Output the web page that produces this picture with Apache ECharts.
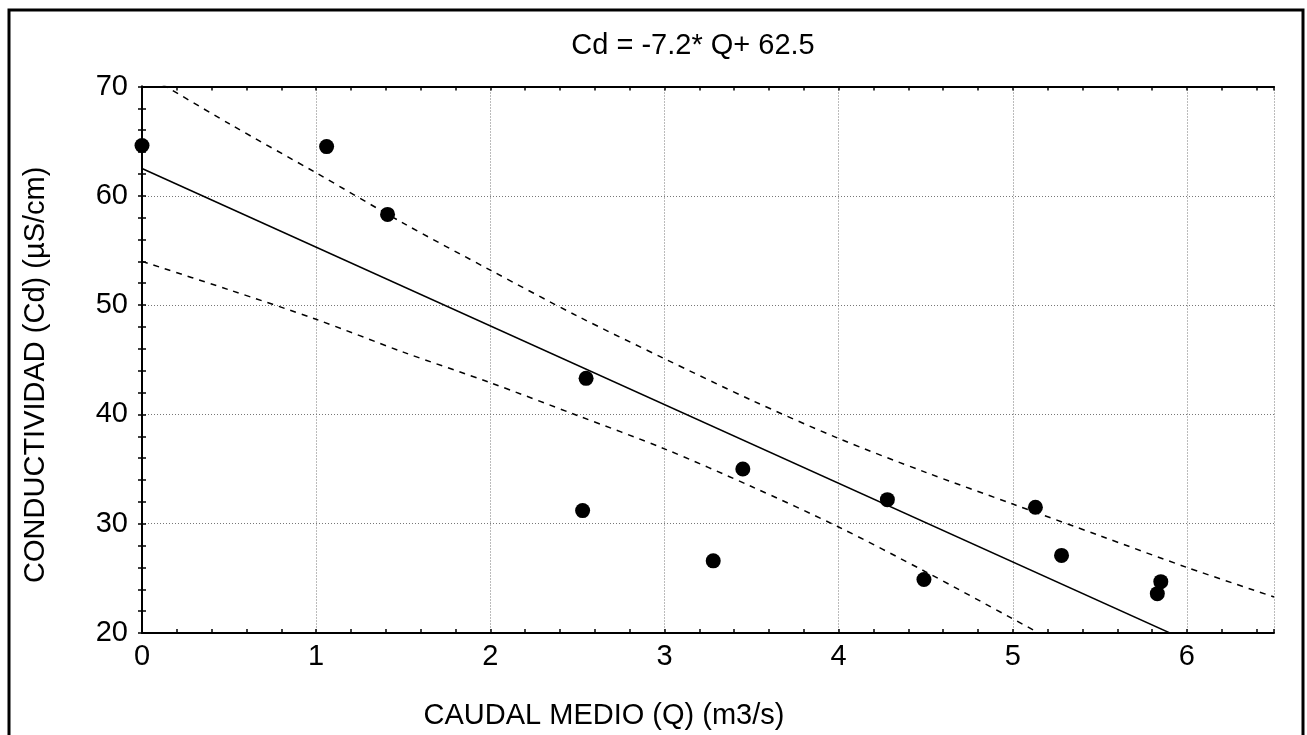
<!DOCTYPE html>
<html>
<head>
<meta charset="utf-8">
<title>Cd vs Q</title>
<script src="https://cdn.jsdelivr.net/npm/echarts@6/dist/echarts.min.js"></script>
<style>
  html, body { margin: 0; padding: 0; background: #fff; }
  #chart { width: 1307px; height: 735px; }
</style>
</head>
<body>
<div id="chart"></div>
<script>
// Observed flow (Q, m3/s) and conductivity (Cd, µS/cm)
const flowQ  = [0.0, 1.06, 1.41, 2.55, 2.53, 3.28, 3.45, 4.28, 4.49, 5.13, 5.28, 5.85, 5.83];
const condCd = [64.6, 64.5, 58.3, 43.3, 31.2, 26.6, 35.0, 32.2, 24.9, 31.5, 27.1, 24.7, 23.6];

// Fitted line Cd = -7.2*Q + 62.5, end points
const fitQ  = [0, 6.5];
const fitCd = [62.5, 15.7];

// 95% confidence band
const upperQ  = [0, 0.5, 1, 1.5, 2, 2.5, 3, 3.5, 4, 4.5, 5, 5.5, 6, 6.5];
const upperCd = [71.3, 66.6, 62.1, 57.5, 53.2, 49.0, 45.1, 41.3, 37.8, 34.7, 31.8, 28.9, 26.0, 23.3];
const lowerQ  = [0, 0.5, 1, 1.5, 2, 2.5, 3, 3.5, 4, 4.5, 5, 5.15];
const lowerCd = [54.0, 51.4, 48.7, 45.7, 42.9, 39.9, 36.85, 33.4, 29.7, 25.6, 21.3, 20.0];

const xTicks = [0, 1, 2, 3, 4, 5, 6];
const yTicks = [20, 30, 40, 50, 60, 70];

const titleText = 'Cd = -7.2* Q+ 62.5';
const xName = 'CAUDAL MEDIO (Q) (m3/s)';
const yName = 'CONDUCTIVIDAD (Cd) (µS/cm)';

const FONT = '"Liberation Sans", Arial, sans-serif';
const FS = 29;
const zip = (xs, ys) => xs.map((x, i) => [x, ys[i]]);

const chart = echarts.init(document.getElementById('chart'), null, { renderer: 'canvas' });

// box axes: inward major and minor ticks on all four sides
const boxTicks = {
  axisLine: { show: true, lineStyle: { color: '#000', width: 2 } },
  axisTick: { show: true, inside: true, length: 4, lineStyle: { color: '#000', width: 1.5 } },
  minorTick: { show: true, splitNumber: 5, length: 4, lineStyle: { color: '#000', width: 1.5 } }
};
const dottedGrid = { show: true, lineStyle: { color: '#777', type: [1, 2], width: 1 } };

chart.setOption({
  animation: false,
  backgroundColor: '#fff',
  textStyle: { fontFamily: FONT },
  title: {
    text: titleText,
    left: 688, top: 26,
    textAlign: 'center',
    textStyle: { fontFamily: FONT, fontSize: FS, fontWeight: 'normal', color: '#000' }
  },
  graphic: [{
    type: 'rect',
    shape: { x: 9, y: 10, width: 1294, height: 780 },
    style: { fill: 'none', stroke: '#000', lineWidth: 3 },
    silent: true
  }],
  grid: { left: 142, top: 86.5, right: 33, bottom: 100 },
  xAxis: [{
    type: 'value', min: 0, max: 6.5, interval: 1,
    name: xName, nameLocation: 'middle', nameGap: 68,
    nameTextStyle: { fontFamily: FONT, fontSize: FS, color: '#000', padding: [0, 208, 0, 0] },
    ...boxTicks,
    axisLabel: {
      color: '#000', fontSize: FS, fontFamily: FONT, margin: 9,
      showMaxLabel: false,
      formatter: v => (xTicks.includes(v) ? String(v) : '')
    },
    splitLine: dottedGrid
  }, {
    type: 'value', min: 0, max: 6.5, interval: 1, position: 'top',
    ...boxTicks,
    axisLabel: { show: false },
    splitLine: { show: false }
  }],
  yAxis: [{
    type: 'value', min: 20, max: 70, interval: 10,
    name: yName, nameLocation: 'middle', nameGap: 92, nameRotate: 90,
    nameTextStyle: { fontFamily: FONT, fontSize: FS, color: '#000', padding: [0, 30, 0, 0] },
    ...boxTicks,
    axisLabel: {
      color: '#000', fontSize: FS, fontFamily: FONT, margin: 14,
      formatter: v => (yTicks.includes(v) ? String(v) : '')
    },
    splitLine: dottedGrid
  }, {
    type: 'value', min: 20, max: 70, interval: 10, position: 'right',
    ...boxTicks,
    axisLabel: { show: false },
    splitLine: { show: false }
  }],
  series: [
    {
      name: 'upper', type: 'line', data: zip(upperQ, upperCd),
      showSymbol: false, smooth: 0.3, clip: true,
      lineStyle: { color: '#000', width: 1.5, type: [6, 6] }, z: 3
    },
    {
      name: 'lower', type: 'line', data: zip(lowerQ, lowerCd),
      showSymbol: false, smooth: 0.3, clip: true,
      lineStyle: { color: '#000', width: 1.5, type: [6, 6] }, z: 3
    },
    {
      name: 'fit', type: 'line', data: zip(fitQ, fitCd),
      showSymbol: false, clip: true,
      lineStyle: { color: '#000', width: 1.5, type: 'solid' }, z: 3
    },
    {
      name: 'obs', type: 'scatter', data: zip(flowQ, condCd),
      symbol: 'circle', symbolSize: 15, clip: false,
      itemStyle: { color: '#000', opacity: 1 }, z: 4
    }
  ]
});
</script>
</body>
</html>
